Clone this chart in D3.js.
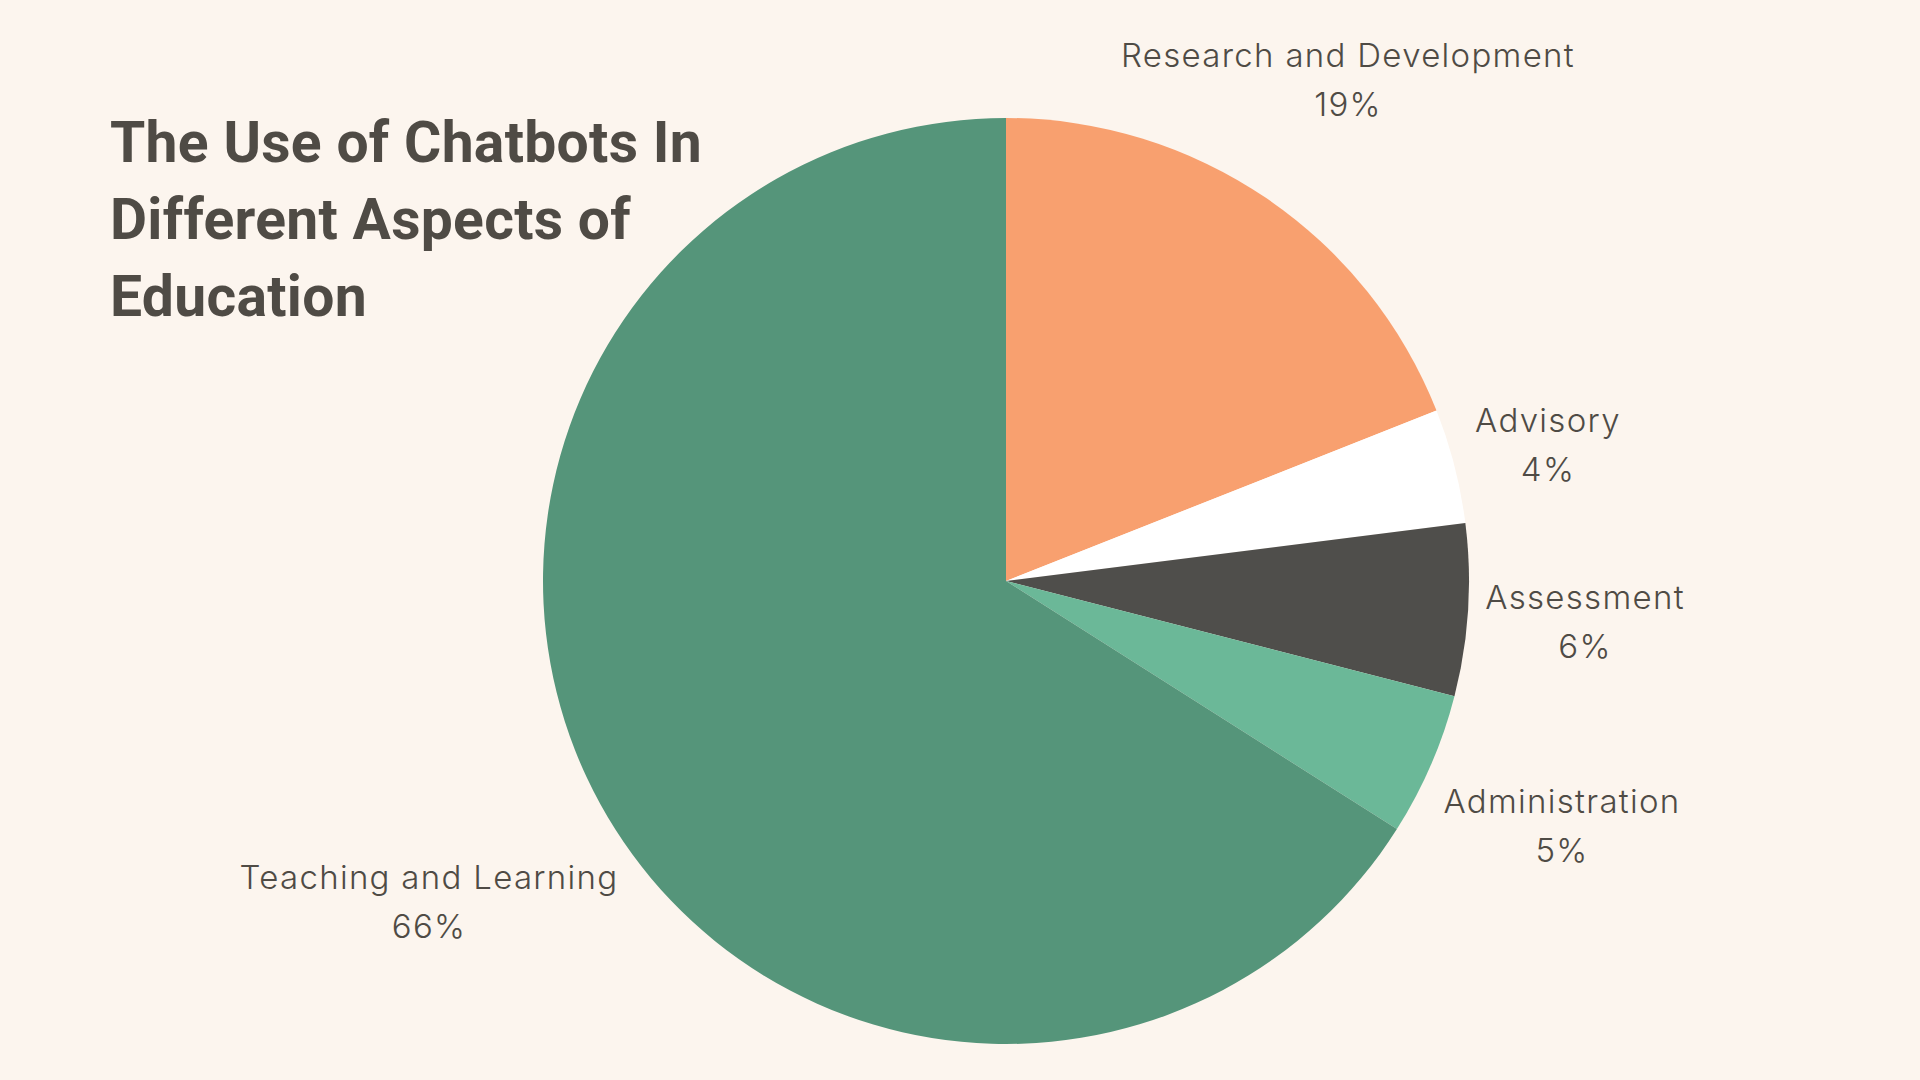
<!DOCTYPE html>
<html>
<head>
<meta charset="utf-8">
<script src="https://cdn.jsdelivr.net/npm/d3@7"></script>
<style>
  html, body { margin: 0; padding: 0; background: #FCF5EE; }
  svg { display: block; }
</style>
</head>
<body>
<script>
const categories = ["Research and Development", "Advisory", "Assessment", "Administration", "Teaching and Learning"];
const values = [19, 4, 6, 5, 66];
const colors = ["#F8A06F", "#FFFFFF", "#4F4E4B", "#6BB898", "#55957A"];
const titleLines = ["The Use of Chatbots In", "Different Aspects of", "Education"];
// label anchor positions (center x, baseline y of name line)
const labelPos = [[1348, 67], [1548, 432], [1585, 609], [1562, 813], [429, 889]];

const W = 1920, H = 1080;
const svg = d3.select("body").append("svg").attr("width", W).attr("height", H);
svg.append("rect").attr("width", W).attr("height", H).attr("fill", "#FCF5EE");

const cx = 1006, cy = 581, R = 463;
const pie = d3.pie().sort(null).value(d => d.v);
const arc = d3.arc().innerRadius(0).outerRadius(R);
const data = categories.map((c, i) => ({ c, v: values[i], col: colors[i], pos: labelPos[i] }));

const g = svg.append("g").attr("transform", `translate(${cx},${cy})`);
g.selectAll("path").data(pie(data)).enter().append("path")
  .attr("d", arc).attr("fill", d => d.data.col);

const lbl = svg.append("g").attr("font-family", "Inter, 'Noto Sans', sans-serif")
  .attr("font-weight", 300).attr("fill", "#4F4B45").attr("text-anchor", "middle");
data.forEach(d => {
  const t = lbl.append("text").attr("x", d.pos[0]).attr("y", d.pos[1])
    .attr("font-size", 33).attr("letter-spacing", 1.3);
  t.append("tspan").attr("x", d.pos[0]).text(d.c);
  t.append("tspan").attr("x", d.pos[0]).attr("dy", 49).text(d.v + "%");
});

const title = svg.append("text").attr("x", 110).attr("y", 162)
  .attr("font-family", "Roboto, 'Liberation Sans', sans-serif").attr("font-weight", 700)
  .attr("font-size", 57).attr("letter-spacing", 0.3).attr("fill", "#4F4B45");
titleLines.forEach((l, i) => {
  title.append("tspan").attr("x", 110).attr("dy", i === 0 ? 0 : 77).text(l);
});
</script>
</body>
</html>
